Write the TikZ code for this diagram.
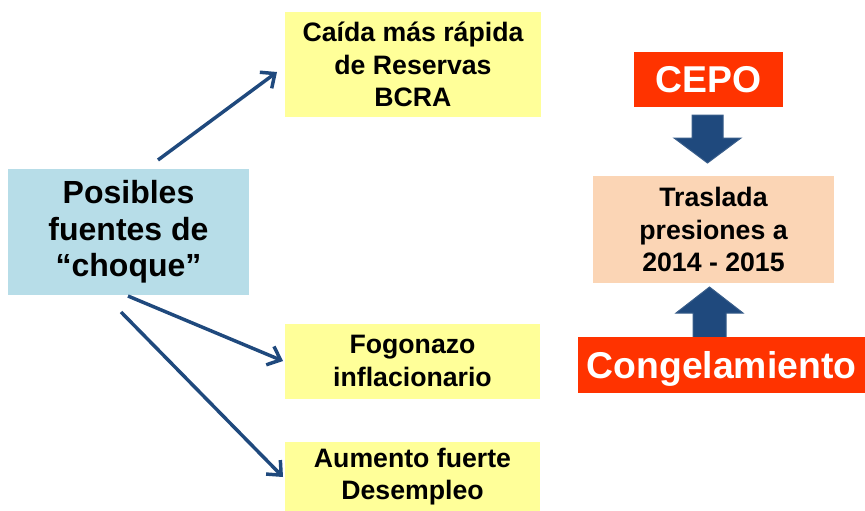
\documentclass[tikz,border=0pt]{standalone}
\usepackage{fontspec}
\setmainfont{Liberation Sans}
\usetikzlibrary{arrows.meta}
\newlength{\pxl}
\setlength{\pxl}{0.75pt}
\definecolor{chblue}{HTML}{B7DDE8}
\definecolor{chyellow}{HTML}{FFFF99}
\definecolor{chpeach}{HTML}{FBD5B5}
\definecolor{chred}{HTML}{FF3300}
\definecolor{chnavy}{HTML}{1F497D}
\definecolor{chedge}{HTML}{385D8A}
\begin{document}
\begin{tikzpicture}[x=0.75pt, y=-0.75pt,
    every node/.style={inner sep=0pt, align=center, font=\bfseries},
    box/.style={rectangle, minimum width=#1\pxl},
    link/.style={draw=chnavy, line width=2.6pt, -{Straight Barb[length=8.5pt, width=15pt]}},
    blockarrow/.style={fill=chnavy, draw=chedge, line width=0.75pt}]

    % Fix the page to the size of the slide region
    \useasboundingbox (0,0) rectangle (865,511);

    % Source box on the left
    \node[box=241, minimum height=126\pxl, fill=chblue, font=\bfseries\fontsize{24}{27.5}\selectfont]
        (fuentes) at (128.5,232) {Posibles\\fuentes de\\``choque''};

    % The three possible shocks
    \node[box=256, minimum height=105\pxl, fill=chyellow, font=\bfseries\fontsize{20}{24.5}\selectfont]
        (reservas) at (413,64.5) {Caída más rápida\\de Reservas\\BCRA};
    \node[box=255, minimum height=75\pxl, fill=chyellow, font=\bfseries\fontsize{20}{24.5}\selectfont]
        (fogonazo) at (412.5,361) {Fogonazo\\inflacionario};
    \node[box=255, minimum height=70\pxl, fill=chyellow, font=\bfseries\fontsize{20}{24.5}\selectfont]
        (desempleo) at (412.5,476.5) {Aumento fuerte\\Desempleo};

    % Free ends of the thin arrows
    \coordinate (s1) at (158,160);
    \coordinate (e1) at (277,72);
    \coordinate (s2) at (128,296);
    \coordinate (e2) at (283,361);
    \coordinate (s3) at (121,312);
    \coordinate (e3) at (283,477);

    \draw[link] (s1) -- (e1);
    \draw[link] (s2) -- (e2);
    \draw[link] (s3) -- (e3);

    % Right column: block arrows first, boxes on top
    \draw[blockarrow] (692,115) -- (723,115) -- (723,138) -- (741,138) -- (707.5,163) -- (674,138) -- (692,138) -- cycle;
    \draw[blockarrow] (693,338) -- (693,313) -- (676,313) -- (709.5,287) -- (743,313) -- (726,313) -- (726,338) -- cycle;

    \node[box=149, minimum height=55\pxl, fill=chred, text=white, font=\bfseries\fontsize{28}{32}\selectfont]
        (cepo) at (708.5,79.5) {CEPO};
    \node[box=241, minimum height=107\pxl, fill=chpeach, font=\bfseries\fontsize{20}{24.5}\selectfont]
        (traslada) at (713.5,229.5) {Traslada\\presiones a\\2014 - 2015};
    \node[box=287, minimum height=56\pxl, fill=chred, text=white, text depth=0pt, font=\bfseries\fontsize{28}{32}\selectfont]
        (congel) at (721.5,365) {Congelamiento};

\end{tikzpicture}
\end{document}
